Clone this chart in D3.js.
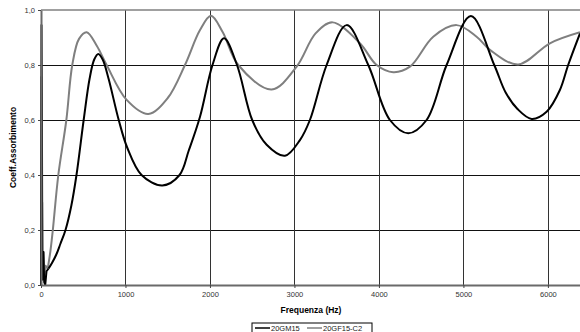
<!DOCTYPE html>
<html>
<head>
<meta charset="utf-8">
<script src="https://cdn.jsdelivr.net/npm/d3@7"></script>
<style>
  body { margin: 0; background: #fff; }
  svg { font-family: "Liberation Sans", Arial, sans-serif; }
</style>
</head>
<body>
<div id="chart"></div>
<script>
// frequency (Hz) / absorption coefficient
const freqGM = [0, 6, 10, 16, 28, 38, 50, 65, 90, 130, 180, 230, 290, 360, 420, 505, 575, 630, 678, 730, 800, 920, 1020, 1190, 1436, 1640, 1750, 1882, 2030, 2166, 2320, 2500, 2671, 2888, 3065, 3183, 3381, 3618, 3874, 4130, 4347, 4564, 4801, 5089, 5365, 5500, 5640, 5807, 5985, 6142, 6240, 6380];
const alphaGM = [0.00, 0.945, 0.70, 0.02, 0.12, 0.01, 0.00, 0.05, 0.06, 0.08, 0.11, 0.15, 0.20, 0.29, 0.40, 0.60, 0.75, 0.82, 0.84, 0.82, 0.75, 0.60, 0.50, 0.40, 0.362, 0.40, 0.49, 0.612, 0.80, 0.897, 0.80, 0.60, 0.51, 0.47, 0.527, 0.60, 0.80, 0.945, 0.80, 0.60, 0.552, 0.60, 0.80, 0.978, 0.80, 0.70, 0.64, 0.604, 0.63, 0.709, 0.80, 0.915];

const freqGF = [0, 4, 8, 14, 20, 30, 40, 55, 80, 110, 140, 205, 300, 370, 450, 541, 660, 777, 1014, 1270, 1500, 1704, 1882, 2012, 2150, 2335, 2730, 3026, 3250, 3452, 3775, 3973, 4170, 4367, 4643, 4919, 5156, 5314, 5649, 6024, 6380];
const alphaGF = [0.00, 0.756, 0.10, 0.30, 0.02, 0.12, 0.03, 0.07, 0.06, 0.12, 0.20, 0.40, 0.60, 0.80, 0.895, 0.919, 0.87, 0.80, 0.673, 0.622, 0.68, 0.80, 0.927, 0.979, 0.92, 0.80, 0.711, 0.794, 0.915, 0.955, 0.879, 0.80, 0.774, 0.794, 0.903, 0.945, 0.903, 0.855, 0.802, 0.879, 0.919];

const xTicks = [0, 1000, 2000, 3000, 4000, 5000, 6000];
const yTicks = [0, 0.2, 0.4, 0.6, 0.8, 1.0];
const seriesNames = ['20GM15', '20GF15-C2'];
const seriesColors = ['#000000', '#7f7f7f'];

const W = 580, H = 332;
const x = d3.scaleLinear().domain([0, 6380]).range([41, 580]);
const y = d3.scaleLinear().domain([0, 1]).range([285, 10]);

const locale = d3.formatLocale({ decimal: ',', thousands: '.', grouping: [3], currency: ['', ''] });
const fmtY = locale.format('.1f');

const svg = d3.select('#chart').append('svg')
  .attr('width', W)
  .attr('height', H);

// grid
svg.append('g')
  .selectAll('line')
  .data(yTicks.filter(d => d > 0 && d < 1))
  .enter().append('line')
  .attr('x1', x(0)).attr('x2', W)
  .attr('y1', d => Math.round(y(d)) + 0.5).attr('y2', d => Math.round(y(d)) + 0.5)
  .attr('stroke', '#111').attr('stroke-width', 1);

svg.append('g')
  .selectAll('line')
  .data(xTicks.filter(d => d > 0))
  .enter().append('line')
  .attr('x1', d => Math.round(x(d)) + 0.5).attr('x2', d => Math.round(x(d)) + 0.5)
  .attr('y1', y(1)).attr('y2', y(0))
  .attr('stroke', '#333').attr('stroke-width', 1);

// top border
svg.append('line')
  .attr('x1', x(0)).attr('x2', W)
  .attr('y1', y(1)).attr('y2', y(1))
  .attr('stroke', '#808080').attr('stroke-width', 1.5);

// series: noisy low end drawn straight, the rest smoothed
const lineRaw = d3.line().x(d => x(d[0])).y(d => y(d[1]));
const lineSmooth = d3.line().x(d => x(d[0])).y(d => y(d[1])).curve(d3.curveCatmullRom.alpha(0.5));
const split = 80;

const series = [
  { pts: d3.zip(freqGF, alphaGF), color: seriesColors[1] },
  { pts: d3.zip(freqGM, alphaGM), color: seriesColors[0] }
];

series.forEach(s => {
  const k = s.pts.findIndex(p => p[0] >= split);
  const g = svg.append('g')
    .attr('fill', 'none')
    .attr('stroke', s.color)
    .attr('stroke-width', 2)
    .attr('stroke-linejoin', 'round');
  g.append('path').attr('d', lineRaw(s.pts.slice(0, k + 1)));
  g.append('path').attr('d', lineSmooth(s.pts.slice(k)));
});

// axes
const xAxis = svg.append('g')
  .attr('transform', `translate(0,${y(0)})`)
  .call(d3.axisBottom(x).tickValues(xTicks).tickFormat(d3.format('d')).tickSize(3).tickSizeOuter(0).tickPadding(4));
xAxis.select('.domain').attr('stroke', '#6a6a6a').attr('stroke-width', 2);
xAxis.selectAll('.tick line').attr('stroke', '#444');
xAxis.selectAll('text').attr('font-size', 7.5).attr('fill', '#333');

const yAxis = svg.append('g')
  .attr('transform', `translate(${x(0)},0)`)
  .call(d3.axisLeft(y).tickValues(yTicks).tickFormat(fmtY).tickSize(3).tickSizeOuter(0).tickPadding(3));
yAxis.select('.domain').attr('stroke', '#6a6a6a').attr('stroke-width', 2);
yAxis.selectAll('.tick line').attr('stroke', '#444');
yAxis.selectAll('text').attr('font-size', 7.5).attr('fill', '#333');

// titles
svg.append('text')
  .attr('x', 311).attr('y', 313)
  .attr('text-anchor', 'middle')
  .attr('font-size', 8.5).attr('font-weight', 'bold')
  .text('Frequenza (Hz)');

svg.append('text')
  .attr('transform', `translate(16,${(y(0) + y(1)) / 2}) rotate(-90)`)
  .attr('text-anchor', 'middle')
  .attr('font-size', 8.5).attr('font-weight', 'bold')
  .text('Coeff.Assorbimento');

// legend
const legend = svg.append('g').attr('transform', 'translate(252,323)');
legend.append('rect')
  .attr('width', 120).attr('height', 10)
  .attr('fill', '#fff').attr('stroke', '#000').attr('stroke-width', 1);
const legX = [3, 55];
const item = legend.selectAll('.item')
  .data(seriesNames)
  .enter().append('g')
  .attr('class', 'item')
  .attr('transform', (d, i) => `translate(${legX[i]},0)`);
item.append('line')
  .attr('x1', 0).attr('x2', 15)
  .attr('y1', 5).attr('y2', 5)
  .attr('stroke', (d, i) => seriesColors[i]).attr('stroke-width', 1.5);
item.append('text')
  .attr('x', 16).attr('y', 8)
  .attr('font-size', 7.5).attr('fill', '#222')
  .text(d => d);
</script>
</body>
</html>
